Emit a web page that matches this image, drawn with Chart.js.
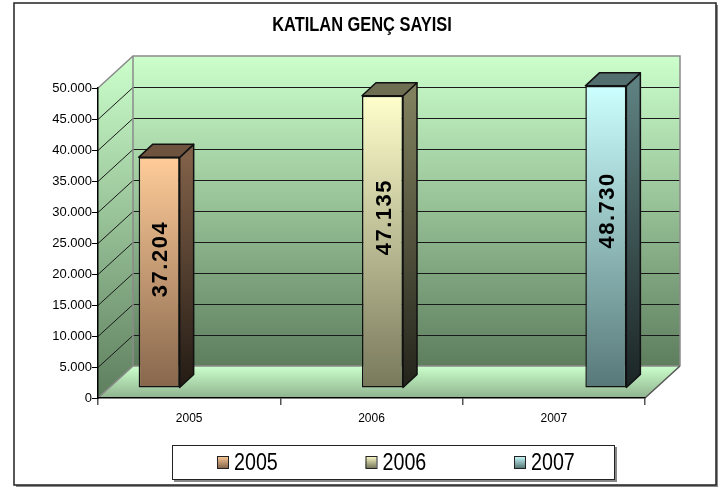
<!DOCTYPE html>
<html>
<head>
<meta charset="utf-8">
<script src="https://cdn.jsdelivr.net/npm/chart.js@4.4.1/dist/chart.umd.min.js"></script>
<style>
html,body{margin:0;padding:0;background:#fff;}
canvas{display:block;}
</style>
</head>
<body>
<canvas id="c" width="724" height="488"></canvas>
<script>
// ---- data ----
const chartTitle = 'KATILAN GENÇ SAYISI';
const categories = ['2005', '2006', '2007'];
const seriesLabels = ['2005', '2006', '2007'];
const values = [37204, 47135, 48730];
const yMin = 0, yMax = 50000, yStep = 5000;

// ---- styles ----
const SANS = "'Liberation Sans', Arial, sans-serif";
const NARROW_X = 0.82;
const frontTop = ['#ffcc99', '#ffffcc', '#ccffff'];
const frontBot = ['#86664c', '#78785c', '#587878'];
const sideTop = ['#806048', '#80805e', '#5e8080'];
const sideBot = ['#231b14', '#23231b', '#1b2424'];
const topFace = ['#6e543f', '#6e6e52', '#526e6e'];
const WALL = {dx: 35, dy: -32};
const BAR_SHIFT = {dx: 11, dy: -10};
const BAR_DEPTH = {dx: 14, dy: -13};

function fmt(v) { return v.toLocaleString('de-DE'); }

function narrowText(ctx, text, x, y, font, align) {
  ctx.save();
  ctx.font = font;
  ctx.textAlign = align;
  ctx.translate(x, y);
  ctx.scale(NARROW_X, 1);
  ctx.fillText(text, 0, 0);
  ctx.restore();
}

const datasets = seriesLabels.map((lab, i) => ({
  label: lab,
  data: categories.map((c, j) => (j === i ? values[i] : null)),
  borderColor: '#111',
  borderWidth: 1.5,
  borderSkipped: false,
  backgroundColor: (ctx) => {
    const chart = ctx.chart;
    const ys = chart.scales && chart.scales.y;
    if (!chart.chartArea || !ys || ctx.raw == null) return frontTop[i];
    const t = ys.getPixelForValue(ctx.raw), b = ys.getPixelForValue(0);
    const g = chart.ctx.createLinearGradient(0, t, 0, b);
    g.addColorStop(0, frontTop[i]);
    g.addColorStop(1, frontBot[i]);
    return g;
  }
}));

const threeD = {
  id: 'threeD',
  beforeDraw(chart) {
    const ctx = chart.ctx;
    const a = chart.chartArea;
    const ys = chart.scales.y;
    ctx.save();
    ctx.fillStyle = '#fff';
    ctx.fillRect(0, 0, chart.width, chart.height);
    // outer frame with shadow
    ctx.fillStyle = '#888';
    ctx.fillRect(16, 485, 701, 2);
    ctx.fillRect(716, 5, 2, 482);
    ctx.strokeStyle = '#222';
    ctx.lineWidth = 1.5;
    ctx.strokeRect(14, 3, 702, 482);

    const L = a.left, R = a.right, T = a.top, B = a.bottom;
    const dx = WALL.dx, dy = WALL.dy;
    // back wall
    let g = ctx.createLinearGradient(0, T + dy, 0, B + dy);
    g.addColorStop(0, '#ccffcc');
    g.addColorStop(1, '#5e7e5e');
    ctx.fillStyle = g;
    ctx.fillRect(L + dx, T + dy, R - L, B - T);
    // left wall
    g = ctx.createLinearGradient(0, T + dy, 0, B);
    g.addColorStop(0, '#ccffcc');
    g.addColorStop(1, '#5e7e5e');
    ctx.fillStyle = g;
    ctx.beginPath();
    ctx.moveTo(L, T); ctx.lineTo(L + dx, T + dy); ctx.lineTo(L + dx, B + dy); ctx.lineTo(L, B); ctx.closePath();
    ctx.fill();
    // floor
    g = ctx.createLinearGradient(0, B + dy, 0, B);
    g.addColorStop(0, '#ccffcc');
    g.addColorStop(1, '#8fb38f');
    ctx.fillStyle = g;
    ctx.beginPath();
    ctx.moveTo(L, B); ctx.lineTo(L + dx, B + dy); ctx.lineTo(R + dx, B + dy); ctx.lineTo(R, B); ctx.closePath();
    ctx.fill();

    // grid lines on walls
    ctx.lineWidth = 1;
    ctx.strokeStyle = '#1a1a1a';
    ys.ticks.forEach(t => {
      if (t.value <= yMin || t.value >= yMax) return;
      const y = Math.round(ys.getPixelForValue(t.value)) + 0.5;
      ctx.beginPath();
      ctx.moveTo(L + dx, y + dy); ctx.lineTo(R + dx, y + dy);
      ctx.stroke();
      ctx.beginPath();
      ctx.moveTo(L, y); ctx.lineTo(L + dx, y + dy);
      ctx.stroke();
    });
    // wall edges
    ctx.strokeStyle = '#8a8a8a';
    ctx.lineWidth = 1.5;
    ctx.beginPath();
    ctx.moveTo(L, T); ctx.lineTo(L + dx, T + dy); ctx.lineTo(R + dx, T + dy); ctx.lineTo(R + dx, B + dy);
    ctx.moveTo(L + dx, T + dy); ctx.lineTo(L + dx, B + dy); ctx.lineTo(R + dx, B + dy);
    ctx.moveTo(L, B); ctx.lineTo(L + dx, B + dy);
    ctx.stroke();
    ctx.strokeStyle = '#555';
    ctx.beginPath();
    ctx.moveTo(R, B); ctx.lineTo(R + dx, B + dy);
    ctx.stroke();

    // title
    ctx.fillStyle = '#000';
    ctx.textBaseline = 'alphabetic';
    narrowText(ctx, chartTitle, 362, 31, 'bold 20px ' + SANS, 'center');

    // legend
    ctx.fillStyle = '#888';
    ctx.fillRect(174, 480, 442, 2);
    ctx.fillRect(615, 447, 2, 35);
    ctx.strokeStyle = '#222';
    ctx.lineWidth = 1;
    ctx.strokeRect(172.5, 445.5, 442, 34);
    seriesLabels.forEach((lab, i) => {
      const x = 217 + i * 148.5;
      const sg = ctx.createLinearGradient(0, 456, 0, 468);
      sg.addColorStop(0, frontTop[i]);
      sg.addColorStop(1, frontBot[i]);
      ctx.fillStyle = sg;
      ctx.fillRect(x, 456, 11, 12);
      ctx.strokeStyle = '#222';
      ctx.strokeRect(x + 0.5, 456.5, 11, 12);
      ctx.fillStyle = '#000';
      narrowText(ctx, lab, x + 17, 469.5, '24px ' + SANS, 'left');
    });
    ctx.restore();
  },
  beforeDatasetsDraw(chart) {
    chart.ctx.save();
    chart.ctx.translate(BAR_SHIFT.dx, BAR_SHIFT.dy);
  },
  afterDatasetsDraw(chart) {
    const ctx = chart.ctx;
    const ddx = BAR_DEPTH.dx, ddy = BAR_DEPTH.dy;
    chart.data.datasets.forEach((ds, i) => {
      const meta = chart.getDatasetMeta(i);
      meta.data.forEach((el, j) => {
        const v = ds.data[j];
        if (v == null) return;
        const p = el.getProps(['x', 'y', 'base', 'width'], true);
        const l = p.x - p.width / 2, r = p.x + p.width / 2, t = p.y, b = p.base;
        ctx.save();
        ctx.lineWidth = 1.5;
        ctx.strokeStyle = '#111';
        ctx.lineJoin = 'round';
        // side face
        const g = ctx.createLinearGradient(0, t, 0, b);
        g.addColorStop(0, sideTop[i]);
        g.addColorStop(1, sideBot[i]);
        ctx.fillStyle = g;
        ctx.beginPath();
        ctx.moveTo(r, t); ctx.lineTo(r + ddx, t + ddy); ctx.lineTo(r + ddx, b + ddy); ctx.lineTo(r, b); ctx.closePath();
        ctx.fill(); ctx.stroke();
        // top face
        ctx.fillStyle = topFace[i];
        ctx.beginPath();
        ctx.moveTo(l, t); ctx.lineTo(l + ddx, t + ddy); ctx.lineTo(r + ddx, t + ddy); ctx.lineTo(r, t); ctx.closePath();
        ctx.fill(); ctx.stroke();
        // value label
        const h = b - t;
        const cy = b + 28 - 0.68 * h;
        ctx.translate(p.x + 2, cy);
        ctx.rotate(-Math.PI / 2);
        ctx.fillStyle = '#000';
        ctx.font = 'bold 22px ' + SANS;
        try { ctx.letterSpacing = '1.5px'; } catch (e) {}
        ctx.textAlign = 'center';
        ctx.textBaseline = 'middle';
        ctx.fillText(fmt(v), 0, 0);
        ctx.restore();
      });
    });
    ctx.restore();
  }
};

new Chart(document.getElementById('c'), {
  type: 'bar',
  data: { labels: categories, datasets },
  options: {
    responsive: false,
    animation: false,
    devicePixelRatio: 1,
    layout: { padding: { left: 0, top: 88, right: 79, bottom: 55 } },
    datasets: { bar: { categoryPercentage: 0.675, barPercentage: 1 } },
    plugins: { legend: { display: false }, title: { display: false }, tooltip: { enabled: false } },
    scales: {
      x: {
        offset: true,
        afterFit(s) { s.height = 35; },
        grid: { display: true, drawOnChartArea: false, offset: true, tickLength: 7, color: '#555', lineWidth: 1.5 },
        border: { display: true, color: '#000', width: 1.5 },
        ticks: { color: '#000', font: { family: SANS, size: 12 }, padding: 6, maxRotation: 0 }
      },
      y: {
        min: yMin, max: yMax,
        afterFit(s) { s.width = 98; },
        grid: { display: true, drawOnChartArea: false, tickLength: 6, color: '#000', lineWidth: 1 },
        border: { display: true, color: '#000', width: 1.5 },
        ticks: { stepSize: yStep, color: '#000', font: { family: SANS, size: 13 }, padding: 0, callback: (v) => fmt(v) }
      }
    }
  },
  plugins: [threeD]
});
</script>
</body>
</html>
